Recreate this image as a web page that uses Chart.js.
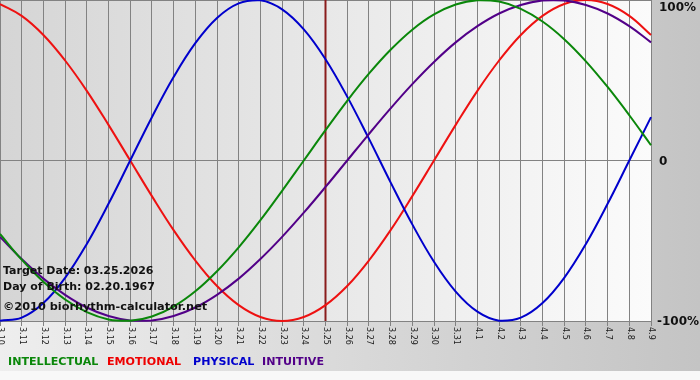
<!DOCTYPE html>
<html>
<head>
<meta charset="utf-8">
<script src="https://cdn.jsdelivr.net/npm/chart.js@4/dist/chart.umd.min.js"></script>
<style>
  html, body { margin: 0; padding: 0; background: #ffffff; }
  #wrap { width: 700px; height: 380px; }
</style>
</head>
<body>
<div id="wrap"><canvas id="c" width="700" height="380"></canvas></div>
<script>
// ---- data ----
const days = ['3.10','3.11','3.12','3.13','3.14','3.15','3.16','3.17','3.18','3.19','3.20','3.21','3.22','3.23','3.24','3.25','3.26','3.27','3.28','3.29','3.30','3.31','4.1','4.2','4.3','4.4','4.5','4.6','4.7','4.8','4.9'];
const intellectual = [-45.8,-61.8,-75.6,-86.6,-94.5,-99.0,-99.9,-97.2,-91.0,-81.5,-69.0,-54.1,-37.2,-18.9,0,18.9,37.2,54.1,69.0,81.5,91.0,97.2,99.9,99.0,94.5,86.6,75.6,61.8,45.8,28.2,9.5];
const emotional = [97.5,90.1,78.2,62.3,43.4,22.2,0,-22.2,-43.4,-62.3,-78.2,-90.1,-97.5,-100,-97.5,-90.1,-78.2,-62.3,-43.4,-22.2,0,22.2,43.4,62.3,78.2,90.1,97.5,100,97.5,90.1,78.2];
const physical = [-99.8,-97.9,-88.8,-73.1,-52.0,-27.0,0,27.0,52.0,73.1,88.8,97.9,99.8,94.2,81.7,63.1,39.8,13.6,-13.6,-39.8,-63.1,-81.7,-94.2,-99.8,-97.9,-88.8,-73.1,-52.0,-27.0,0,27.0];
const intuitive = [-47.6,-61.4,-73.6,-83.7,-91.6,-96.9,-99.7,-99.7,-96.9,-91.6,-83.7,-73.6,-61.4,-47.6,-32.5,-16.5,0,16.5,32.5,47.6,61.4,73.6,83.7,91.6,96.9,99.7,99.7,96.9,91.6,83.7,73.6];
const yTickLabels = [{v: 100, t: '100%'}, {v: 0, t: '0'}, {v: -100, t: '-100%'}];
const targetDay = '3.25';
const infoLines = ['Target Date: 03.25.2026', 'Day of Birth: 02.20.1967', '\u00A92010 biorhythm-calculator.net'];
const legendItems = [
  {t: 'INTELLECTUAL', c: '#0a870a'},
  {t: 'EMOTIONAL', c: '#ee0000'},
  {t: 'PHYSICAL', c: '#0000cc'},
  {t: 'INTUITIVE', c: '#520088'}
];

const COLORS = {intellectual: '#0a870a', emotional: '#ee1111', physical: '#0000cc', intuitive: '#520088'};
const GRID = '#828282';

const bgPlugin = {
  id: 'bg',
  beforeDraw(chart) {
    const ctx = chart.ctx, a = chart.chartArea;
    const W = chart.width, H = chart.height;
    ctx.save();
    let g = ctx.createLinearGradient(0, 0, W, 0);
    g.addColorStop(0, '#eeeeee');
    g.addColorStop(1, '#c4c4c4');
    ctx.fillStyle = g;
    ctx.fillRect(0, 0, W, H);
    g = ctx.createLinearGradient(a.left, 0, a.right, 0);
    g.addColorStop(0, '#d5d5d5');
    g.addColorStop(1, '#fbfbfb');
    ctx.fillStyle = g;
    ctx.fillRect(a.left, a.top, a.right - a.left, a.bottom - a.top);
    ctx.fillStyle = '#f8f8f8';
    ctx.fillRect(0, 371, W, H - 371);
    ctx.restore();
  },
  beforeDatasetsDraw(chart) {
    const ctx = chart.ctx, a = chart.chartArea;
    const x = chart.scales.x.getPixelForValue(days.indexOf(targetDay));
    ctx.save();
    ctx.strokeStyle = '#8a1c1c';
    ctx.lineWidth = 2;
    ctx.beginPath();
    ctx.moveTo(x, a.top);
    ctx.lineTo(x, a.bottom);
    ctx.stroke();
    ctx.restore();
  },
  afterDraw(chart) {
    const ctx = chart.ctx, a = chart.chartArea;
    const xs = chart.scales.x, ys = chart.scales.y;
    ctx.save();
    // x tick labels rotated clockwise
    ctx.fillStyle = '#1a1a1a';
    ctx.font = '8px "DejaVu Sans"';
    ctx.textAlign = 'left';
    ctx.textBaseline = 'middle';
    days.forEach((d, i) => {
      const x = xs.getPixelForValue(i);
      ctx.save();
      ctx.translate(x + 0.5, a.bottom + 6);
      ctx.rotate(Math.PI / 2);
      ctx.fillText(d, 0, 0);
      ctx.restore();
    });
    // y labels on the right
    ctx.fillStyle = '#111111';
    ctx.font = 'bold 12px "DejaVu Sans"';
    ctx.textBaseline = 'middle';
    yTickLabels.forEach(o => {
      let y = ys.getPixelForValue(o.v);
      y = Math.min(Math.max(y, 7), a.bottom);
      const x = o.v < 0 ? a.right + 6 : a.right + 8;
      ctx.fillText(o.t, x, y + 1);
    });
    // info text
    ctx.font = 'bold 11px "DejaVu Sans"';
    ctx.fillStyle = '#111111';
    ctx.textBaseline = 'middle';
    ctx.fillText(infoLines[0], 3, 271);
    ctx.fillText(infoLines[1], 3, 287);
    ctx.font = 'bold 11.3px "DejaVu Sans"';
    ctx.fillText(infoLines[2], 3, 307);
    // legend
    ctx.font = 'bold 11.1px "DejaVu Sans"';
    const lx = [8, 107, 193, 262];
    legendItems.forEach((it, i) => {
      ctx.fillStyle = it.c;
      ctx.fillText(it.t, lx[i], 362);
    });
    ctx.restore();
  }
};

const mk = (label, data, color) => ({
  label, data, borderColor: color, borderWidth: 2, pointRadius: 0,
  tension: 0.4, fill: false, clip: 4
});

new Chart(document.getElementById('c'), {
  type: 'line',
  data: {
    labels: days,
    datasets: [
      mk('Intellectual', intellectual, COLORS.intellectual),
      mk('Intuitive', intuitive, COLORS.intuitive),
      mk('Physical', physical, COLORS.physical),
      mk('Emotional', emotional, COLORS.emotional)
    ]
  },
  options: {
    responsive: false,
    animation: false,
    layout: { padding: 0 },
    plugins: { legend: { display: false }, tooltip: { enabled: false } },
    scales: {
      x: {
        type: 'category',
        offset: false,
        grid: { color: GRID, lineWidth: 1, drawTicks: true, tickLength: 5, tickColor: GRID },
        border: { display: true, color: GRID },
        ticks: { display: false },
        afterFit(s) { s.height = 59; }
      },
      y: {
        position: 'right',
        min: -100, max: 100,
        ticks: { display: false, stepSize: 100 },
        grid: { color: GRID, lineWidth: 1, drawTicks: false },
        border: { display: false },
        afterFit(s) { s.width = 49; }
      }
    }
  },
  plugins: [bgPlugin]
});
</script>
</body>
</html>
